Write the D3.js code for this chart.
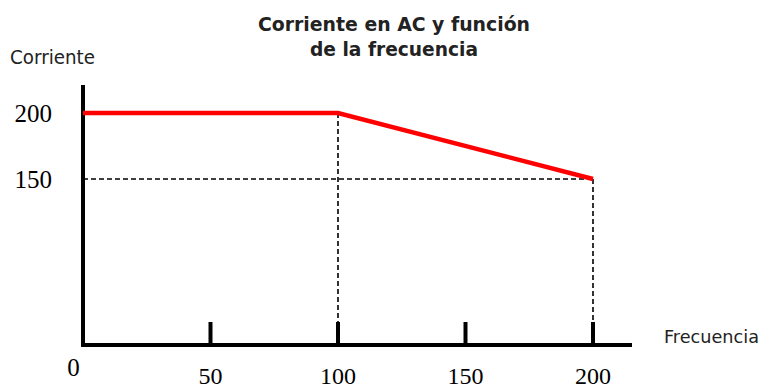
<!DOCTYPE html>
<html>
<head>
<meta charset="utf-8">
<script src="https://cdn.jsdelivr.net/npm/d3@7/dist/d3.min.js"></script>
<style>
  html, body { margin: 0; padding: 0; background: #fff; }
  svg { display: block; }
</style>
</head>
<body>
<script>
// Current limit vs. frequency: flat up to 100, then falling to 150 at 200
const freq = [0, 100, 200];
const current = [200, 200, 150];
const xTicks = [50, 100, 150, 200];
const yTicks = [150, 200];
const titleLines = ["Corriente en AC y función", "de la frecuencia"];

const W = 767, H = 389;
const svg = d3.select("body").append("svg").attr("width", W).attr("height", H);

const x = d3.scaleLinear().domain([0, 200]).range([83, 593]);
const y = d3.scaleLinear().domain([150, 200]).range([179, 113]);
const axisY = 345;      // pixel row of the horizontal axis
const axisTop = 85;     // top end of the vertical axis
const axisRight = 632;  // right end of the horizontal axis
const tickLen = 23;

// Title
svg.append("g").selectAll("text").data(titleLines).join("text")
  .attr("x", 394).attr("y", (d, i) => 31 + i * 24.5)
  .attr("text-anchor", "middle")
  .attr("font-family", "DejaVu Sans, sans-serif")
  .attr("font-weight", "bold").attr("font-size", 19.5)
  .attr("fill", "#222")
  .attr("textLength", (d, i) => i === 0 ? 272 : 168)
  .attr("lengthAdjust", "spacingAndGlyphs")
  .text(d => d);

// Axis titles
svg.append("text").attr("x", 10).attr("y", 64)
  .attr("font-family", "DejaVu Sans, sans-serif").attr("font-size", 19)
  .attr("fill", "#222").attr("textLength", 85).attr("lengthAdjust", "spacingAndGlyphs")
  .text("Corriente");
svg.append("text").attr("x", 664).attr("y", 342.5)
  .attr("font-family", "DejaVu Sans, sans-serif").attr("font-size", 18.5)
  .attr("fill", "#222").attr("textLength", 95).attr("lengthAdjust", "spacingAndGlyphs")
  .text("Frecuencia");

// Dashed guides to the break points
const pts = freq.map((f, i) => ({ f, c: current[i] }));
const guides = svg.append("g")
  .attr("stroke", "#000").attr("stroke-width", 1.6)
  .attr("stroke-dasharray", "5,3").attr("fill", "none");
guides.selectAll("line.v").data(pts.filter(p => p.f > 0)).join("line")
  .attr("class", "v")
  .attr("x1", p => x(p.f)).attr("x2", p => x(p.f))
  .attr("y1", p => y(p.c)).attr("y2", axisY - tickLen);
guides.selectAll("line.h").data(pts.filter(p => p.c < d3.max(current))).join("line")
  .attr("class", "h")
  .attr("x1", x(0)).attr("x2", p => x(p.f))
  .attr("y1", p => y(p.c)).attr("y2", p => y(p.c));

// Axes
const axes = svg.append("g").attr("stroke", "#000").attr("stroke-width", 4);
axes.append("line").attr("x1", x(0)).attr("x2", x(0)).attr("y1", axisTop).attr("y2", axisY + 2);
axes.append("line").attr("x1", x(0) - 2).attr("x2", axisRight).attr("y1", axisY).attr("y2", axisY);
axes.selectAll("line.tick").data(xTicks).join("line")
  .attr("class", "tick")
  .attr("x1", d => x(d)).attr("x2", d => x(d))
  .attr("y1", axisY).attr("y2", axisY - tickLen);

// Tick labels
const serif = "Liberation Serif, Times New Roman, serif";
svg.append("g").selectAll("text").data(xTicks).join("text")
  .attr("x", d => x(d)).attr("y", 384)
  .attr("text-anchor", "middle").attr("font-family", serif).attr("font-size", 24)
  .attr("fill", "#000").text(d => d);
svg.append("g").selectAll("text").data(yTicks).join("text")
  .attr("x", 52).attr("y", d => y(d) + 9)
  .attr("text-anchor", "end").attr("font-family", serif).attr("font-size", 25)
  .attr("fill", "#000").text(d => d);
svg.append("text").attr("x", 73.5).attr("y", 376)
  .attr("text-anchor", "middle").attr("font-family", serif).attr("font-size", 25)
  .attr("fill", "#000").text("0");

// Current curve
const line = d3.line().x(p => x(p.f)).y(p => y(p.c));
svg.append("path").datum(pts)
  .attr("d", line)
  .attr("fill", "none").attr("stroke", "#ff0000")
  .attr("stroke-width", 4.5).attr("stroke-linejoin", "miter");
</script>
</body>
</html>
